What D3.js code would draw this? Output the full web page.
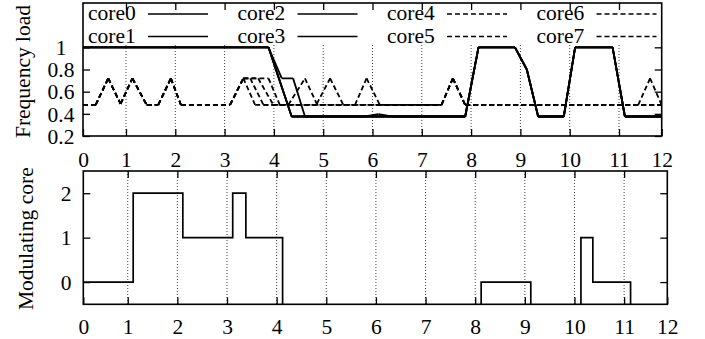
<!DOCTYPE html>
<html>
<head>
<meta charset="utf-8">
<script src="https://cdn.jsdelivr.net/npm/d3@7"></script>
<style>
  body { margin: 0; background: #fff; }
  svg { display: block; }
  svg text { font-family: "Liberation Serif", Tinos, "Nimbus Roman", "DejaVu Serif", serif !important; }
</style>
</head>
<body>
<div id="chart"></div>
<script>
// x tick labels (both panels)
const timeTickLabels = ['0', '1', '2', '3', '4', '5', '6', '7', '8', '9', '10', '11', '12'];
const loadTicks = [0.2, 0.4, 0.6, 0.8, 1];
const loadTickLabels = ['0.2', '0.4', '0.6', '0.8', '1'];
const modTicks = [0, 1, 2];
const coreNames = ['core0', 'core1', 'core2', 'core3', 'core4', 'core5', 'core6', 'core7'];

// frequency load, [time, load]
const core0 = [[0.128, 1], [3.89, 1], [4.36, 0.376], [7.88, 0.376], [8.15, 1], [8.89, 1], [9.13, 0.8], [9.36, 0.376],
  [9.88, 0.376], [10.11, 1], [10.87, 1], [11.12, 0.376], [11.866, 0.376]];
const core1 = [[0.128, 1], [3.89, 1], [4.16, 0.72], [4.39, 0.72], [4.63, 0.376], [7.88, 0.376], [8.15, 1], [8.89, 1],
  [9.13, 0.8], [9.36, 0.376], [9.88, 0.376], [10.11, 1], [10.87, 1], [11.12, 0.376], [11.866, 0.376]];
const core2 = [[0.128, 1], [3.89, 1], [4.36, 0.376], [5.85, 0.376], [6.12, 0.397], [6.39, 0.376], [7.88, 0.376],
  [8.15, 1], [8.89, 1], [9.13, 0.8], [9.36, 0.376], [9.88, 0.376], [10.11, 1], [10.87, 1], [11.12, 0.376], [11.866, 0.376]];
const core3 = [[0.128, 1], [3.89, 1], [4.36, 0.376], [7.88, 0.376], [8.15, 1], [8.89, 1], [9.13, 0.8], [9.36, 0.376],
  [9.88, 0.376], [10.11, 1], [10.87, 1], [11.12, 0.376], [11.866, 0.376]];
const core4 = [[0.128, 0.48], [0.385, 0.48], [0.64, 0.72], [0.89, 0.49], [1.13, 0.72], [1.42, 0.48], [1.655, 0.48],
  [1.91, 0.72], [2.115, 0.48], [3.11, 0.48], [3.38, 0.72], [3.62, 0.48], [4.29, 0.48], [4.63, 0.72], [4.87, 0.49],
  [5.14, 0.72], [5.41, 0.48], [5.645, 0.48], [5.88, 0.72], [6.15, 0.48], [7.4, 0.48], [7.63, 0.72], [7.88, 0.48],
  [11.39, 0.48], [11.63, 0.72], [11.866, 0.48]];
const core5 = [[0.128, 0.48], [0.385, 0.48], [0.64, 0.72], [0.89, 0.49], [1.13, 0.72], [1.42, 0.48], [1.655, 0.48],
  [1.91, 0.72], [2.115, 0.48], [3.11, 0.48], [3.38, 0.72], [3.52, 0.72], [3.79, 0.48], [7.4, 0.48], [7.63, 0.72],
  [7.88, 0.48], [11.866, 0.48]];
const core6 = [[0.128, 0.48], [0.385, 0.48], [0.64, 0.72], [0.89, 0.49], [1.13, 0.72], [1.42, 0.48], [1.655, 0.48],
  [1.91, 0.72], [2.115, 0.48], [3.11, 0.48], [3.38, 0.72], [3.68, 0.72], [3.99, 0.48], [7.4, 0.48], [7.63, 0.72],
  [7.88, 0.48], [11.866, 0.48]];
const core7 = [[0.128, 0.48], [0.385, 0.48], [0.64, 0.72], [0.89, 0.49], [1.13, 0.72], [1.42, 0.48], [1.655, 0.48],
  [1.91, 0.72], [2.115, 0.48], [3.11, 0.48], [3.38, 0.72], [3.89, 0.72], [4.12, 0.48], [7.4, 0.48], [7.63, 0.72],
  [7.88, 0.48], [11.866, 0.48]];

// modulating core, step after each time (-1 = none)
const modTimes = [0.105, 1.11, 2.11, 3.115, 3.38, 4.12, 8.12, 9.12, 10.13, 10.37, 11.13, 11.87];
const modValues = [0, 2, 1, 2, 1, -1, 0, -1, 1, 0, -1, -1];

const width = 705;
const height = 339;
const fontSize = 21.5;
const serif = '"Liberation Serif", Tinos, "Nimbus Roman", "DejaVu Serif", serif';

const svg = d3.select('#chart')
  .append('svg')
  .attr('width', width)
  .attr('height', height)
  .attr('font-family', serif);

svg.append('rect').attr('width', width).attr('height', height).attr('fill', '#fff');

function panel(box, xDomain, yDomain) {
  const x = d3.scaleLinear().domain(xDomain).range([box.left, box.right]);
  const y = d3.scaleLinear().domain(yDomain).range([box.bottom, box.top]);
  const xTicks = [xDomain[0], 1, 2, 3, 4, 5, 6, 7, 8, 9, 10, 11, xDomain[1]];
  return { x, y, xTicks };
}

function drawGrid(g, p, box, gridTop) {
  g.append('g')
    .selectAll('line')
    .data(p.xTicks.slice(1, -1))
    .enter()
    .append('line')
      .attr('x1', d => p.x(d))
      .attr('x2', d => p.x(d))
      .attr('y1', gridTop)
      .attr('y2', box.bottom)
      .attr('stroke', '#444')
      .attr('stroke-width', 1)
      .attr('stroke-dasharray', '1,2');
}

function drawFrame(g, p, box, yTicks, yLabels, labelPad, yLabelX) {
  const tick = 7;
  const bottomAxis = g.append('g')
    .attr('transform', `translate(0,${box.bottom})`)
    .call(d3.axisBottom(p.x).tickValues(p.xTicks).tickSizeInner(-tick).tickSizeOuter(0)
      .tickPadding(labelPad).tickFormat((d, i) => timeTickLabels[i]));
  const topAxis = g.append('g')
    .attr('transform', `translate(0,${box.top})`)
    .call(d3.axisTop(p.x).tickValues(p.xTicks.slice(1, -1)).tickSizeInner(-tick).tickSizeOuter(0).tickFormat(''));
  const leftAxis = g.append('g')
    .attr('transform', `translate(${box.left},0)`)
    .call(d3.axisLeft(p.y).tickValues(yTicks).tickSizeInner(-tick).tickSizeOuter(0)
      .tickFormat((d, i) => yLabels[i]));
  const rightAxis = g.append('g')
    .attr('transform', `translate(${box.right},0)`)
    .call(d3.axisRight(p.y).tickValues(yTicks).tickSizeInner(-tick).tickSizeOuter(0).tickFormat(''));

  [bottomAxis, topAxis, leftAxis, rightAxis].forEach(a => {
    a.attr('font-family', serif).attr('font-size', fontSize);
    a.select('.domain').remove();
    a.selectAll('line').attr('stroke', '#000').attr('stroke-width', 1.3);
    a.selectAll('text').attr('fill', '#000');
  });
  leftAxis.selectAll('text')
    .attr('text-anchor', 'middle')
    .attr('x', yLabelX - box.left)
    .attr('dy', '0.34em');

  g.append('rect')
    .attr('x', box.left)
    .attr('y', box.top)
    .attr('width', box.right - box.left)
    .attr('height', box.bottom - box.top)
    .attr('fill', 'none')
    .attr('stroke', '#000')
    .attr('stroke-width', 1.6);
}

// ---------- top panel: frequency load ----------
const topBox = { left: 83, right: 661.7, top: 3, bottom: 136 };
const topP = panel(topBox, [0.128, 11.866], [0.2, 1.4]);
const gTop = svg.append('g');

drawGrid(gTop, topP, topBox, 45);

const series = [core0, core1, core2, core3, core4, core5, core6, core7];
svg.append('clipPath').attr('id', 'clip-top')
  .append('rect')
  .attr('x', topBox.left).attr('y', topBox.top)
  .attr('width', topBox.right - topBox.left).attr('height', topBox.bottom - topBox.top);

const lineGroup = gTop.append('g').attr('clip-path', 'url(#clip-top)');
series.forEach((s, idx) => {
  // draw segment by segment so that overlapping dashes stay in phase
  lineGroup.append('g')
    .selectAll('line')
    .data(d3.pairs(s))
    .enter()
    .append('line')
      .attr('x1', d => topP.x(d[0][0]))
      .attr('y1', d => topP.y(d[0][1]))
      .attr('x2', d => topP.x(d[1][0]))
      .attr('y2', d => topP.y(d[1][1]))
      .attr('stroke', '#000')
      .attr('stroke-width', 1.8)
      .attr('stroke-linecap', 'butt')
      .attr('stroke-dasharray', idx < 4 ? null : '5,3');
});

drawFrame(gTop, topP, topBox, loadTicks, loadTickLabels, 16, 61);

// legend
const legend = gTop.append('g');
coreNames.forEach((name, i) => {
  const col = Math.floor(i / 2);
  const row = i % 2;
  const tx = 88 + col * 149.5;
  const ty = 20 + row * 22.5;
  legend.append('text')
    .attr('x', tx)
    .attr('y', ty)
    .attr('font-size', fontSize)
    .attr('fill', '#000')
    .text(name);
  legend.append('line')
    .attr('x1', tx + 60)
    .attr('x2', tx + 120)
    .attr('y1', ty - 6)
    .attr('y2', ty - 6)
    .attr('stroke', '#000')
    .attr('stroke-width', 1.3)
    .attr('stroke-dasharray', i < 4 ? null : '5,3');
});

gTop.append('text')
  .attr('transform', `translate(30,${(topBox.top + topBox.bottom) / 2 + 2}) rotate(-90)`)
  .attr('text-anchor', 'middle')
  .attr('font-size', fontSize)
  .attr('fill', '#000')
  .text('Frequency load');

// ---------- bottom panel: modulating core ----------
const botBox = { left: 83.3, right: 667.3, top: 171, bottom: 304.3 };
const botP = panel(botBox, [0.105, 11.87], [-0.5, 2.5]);
const gBot = svg.append('g');

drawGrid(gBot, botP, botBox, botBox.top);

svg.append('clipPath').attr('id', 'clip-bot')
  .append('rect')
  .attr('x', botBox.left).attr('y', botBox.top)
  .attr('width', botBox.right - botBox.left).attr('height', botBox.bottom - botBox.top);

const step = d3.line()
  .x(d => botP.x(d[0]))
  .y(d => botP.y(d[1]))
  .curve(d3.curveStepAfter);

gBot.append('path')
  .attr('clip-path', 'url(#clip-bot)')
  .attr('d', step(modTimes.map((t, i) => [t, modValues[i]])))
  .attr('fill', 'none')
  .attr('stroke', '#000')
  .attr('stroke-width', 1.7);

drawFrame(gBot, botP, botBox, modTicks, modTicks.map(String), 14, 66);

gBot.append('text')
  .attr('transform', `translate(33,${(botBox.top + botBox.bottom) / 2 + 1}) rotate(-90)`)
  .attr('text-anchor', 'middle')
  .attr('font-size', fontSize)
  .attr('fill', '#000')
  .text('Modulating core');
</script>
</body>
</html>
